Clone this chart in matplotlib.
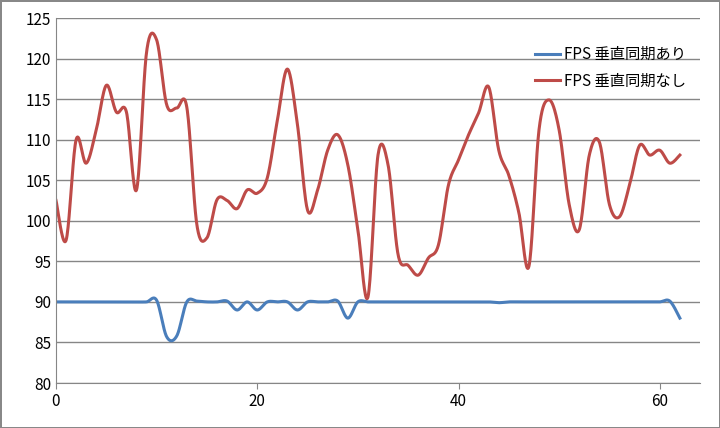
import numpy as np
import matplotlib
matplotlib.use("Agg")
import matplotlib.pyplot as plt

plt.rcParams['font.family'] = ['Noto Sans CJK JP', 'DejaVu Sans']

x = list(range(63))
fps_nosync = [102.5, 97.6, 110, 107.1, 111.2, 116.7, 113.4, 113.4, 103.8, 120.8,
              122.3, 114.3, 113.9, 114, 99.5, 97.9, 102.6, 102.5, 101.5, 103.8,
              103.4, 105.3, 112.4, 118.7, 111.8, 101.3, 103.8, 108.7, 110.6, 106.9,
              98.9, 90.6, 108.1, 106.9, 95.8, 94.5, 93.3, 95.4, 97, 104.4,
              107.5, 110.6, 113.3, 116.5, 108.7, 105.6, 101, 94.4, 111.2, 114.9,
              111.2, 102, 98.9, 108.1, 109.7, 102, 100.5, 104.4, 109.3, 108.1,
              108.7, 107.1, 108.1]
fps_sync = [90]*63
for i, v in {10: 90.2, 11: 85.7, 12: 85.8, 13: 90, 14: 90.1, 17: 90.1, 18: 89, 19: 90,
             20: 89, 21: 90, 23: 90, 24: 89, 25: 90, 28: 90.1, 29: 88, 30: 90,
             44: 89.9, 61: 90.1, 62: 88}.items():
    fps_sync[i] = v

def smooth(xs, ys, n=20):
    xs = np.asarray(xs, float); ys = np.asarray(ys, float)
    px = np.concatenate([[xs[0]], xs, [xs[-1]]])
    py = np.concatenate([[ys[0]], ys, [ys[-1]]])
    ox, oy = [], []
    t = np.linspace(0, 1, n, endpoint=False)
    for i in range(1, len(px) - 2):
        p0, p1, p2, p3 = (np.array([px[j], py[j]]) for j in (i-1, i, i+1, i+2))
        c1 = p1 + (p2 - p0) / 6
        c2 = p2 - (p3 - p1) / 6
        tt = t[:, None]
        b = (1-tt)**3*p1 + 3*(1-tt)**2*tt*c1 + 3*(1-tt)*tt**2*c2 + tt**3*p2
        ox.extend(b[:, 0]); oy.extend(b[:, 1])
    ox.append(xs[-1]); oy.append(ys[-1])
    return ox, oy

fig = plt.figure(figsize=(7.2, 4.28), dpi=100)
fig.patch.set_edgecolor('#888888'); fig.patch.set_linewidth(1)
ax = fig.add_axes([56/720, 1-383/428, (700-56)/720, (383-18)/428])
sx, sy = smooth(x, fps_sync)
ax.plot(sx, sy, color='#4a7ebb', lw=2.2, label='FPS 垂直同期あり')
rx, ry = smooth(x, fps_nosync)
ax.plot(rx, ry, color='#be4b48', lw=2.2, label='FPS 垂直同期なし')
ax.set_xlim(0, 64)
ax.set_ylim(80, 125)
ax.set_xticks([0, 20, 40, 60])
ax.set_yticks(range(80, 126, 5))
ax.yaxis.grid(True, color='#868686', lw=1)
ax.set_axisbelow(True)
for s in ['top', 'right']:
    ax.spines[s].set_visible(False)
for s in ['left', 'bottom']:
    ax.spines[s].set_color('#868686')
ax.tick_params(axis='both', labelsize=11, length=4, color='#868686')
ax.tick_params(axis='y', length=0)
ax.legend(loc='upper right', bbox_to_anchor=(1.0, 0.96), frameon=False, fontsize=11,
          handlelength=1.6, handletextpad=0.3, labelspacing=0.6)
fig.savefig('out.png', dpi=100, edgecolor=fig.get_edgecolor())
